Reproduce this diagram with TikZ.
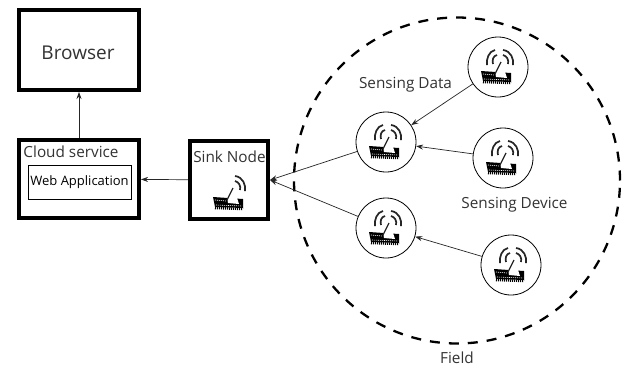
\documentclass[tikz,border=0pt]{standalone}
\usepackage{fontspec}
\setmainfont{Open Sans}
\usetikzlibrary{arrows.meta, positioning}

% chip with antenna, drawn around a centre point
\newcommand{\chipicon}[2]{%
    \begin{scope}[shift={(#1)}]
        \fill[black] (-17,4) -- (13,6) -- (13,15) -- (-15,14) -- cycle;
        \draw[black, dash pattern=on 1pt off 1pt, line width=2.5pt] (-15,15) -- (13,16);
        \draw[white, dash pattern=on 1pt off 1pt, line width=0.6pt] (-15,7) -- (-4,8);
        \draw[white, dash pattern=on 1pt off 1pt, line width=0.6pt] (-14,12) -- (12,13);
        \fill[white] (-3,4) -- (7,5) -- (9,11) -- (-2,10) -- cycle;
        \draw[line width=1.3pt] (3,-5) -- (-3,7);
        \draw[line width=1.7pt] (5,-12) .. controls (9,-11) and (11,-7) .. (10,-3);
        \draw[line width=1.7pt] (5,-17) .. controls (13,-16) and (16,-8) .. (15,-2);
        \ifnum#2=1
            \draw[line width=1.7pt] (-1,-12) .. controls (-5,-11) and (-6,-7) .. (-5,-3);
            \draw[line width=1.7pt] (-3,-17) .. controls (-9,-16) and (-12,-8) .. (-11,-2);
        \fi
    \end{scope}%
}

\begin{document}
\begin{tikzpicture}[x=1pt, y=-1pt, >={Stealth[length=7pt,width=5pt]}, line width=0.7pt, draw=black!85]
    \tikzstyle{bigbox}=[draw=black, line width=4pt, inner sep=0pt]
    \tikzstyle{appbox}=[draw=black, line width=1pt, inner sep=0pt, minimum width=103pt, minimum height=34pt, font=\fontsize{13}{15}\selectfont]
    \tikzstyle{sensor}=[circle, draw=black, line width=0.8pt, minimum size=60pt, inner sep=0pt]
    \tikzstyle{annot}=[inner sep=0pt, text=black!80, font=\fontsize{15.3}{18}\selectfont]

    \useasboundingbox (0,0) rectangle (624,367);
    \fill[white] (0,0) rectangle (624,367);

    % The boxes on the left
    \node[bigbox, minimum width=120pt, minimum height=80pt] (browser) at (79,50) {};
    \node[annot, font=\fontsize{19}{22}\selectfont] (browserlabel) at (78,53) {Browser};
    \node[bigbox, minimum width=120pt, minimum height=78pt] (cloud) at (79,179) {};
    \node[annot] (cloudlabel) at (71,152) {Cloud service};
    \node[appbox] (webapp) at (79.5,182) {Web Application};
    \node[bigbox, minimum width=78pt, minimum height=78pt] (sink) at (229,180) {};
    \node[annot] (sinklabel) at (229.5,157) {Sink Node};
    \chipicon{230,193}{0}

    % The field
    \node[circle, draw=black, line width=2.3pt, dash pattern=on 10pt off 9pt, minimum size=326pt, inner sep=0pt] (field) at (457,180.5) {};

    % Draw the sensing devices
    \foreach \name / \x / \y in {1/498/67, 2/386/142, 3/503/158, 4/386/228, 5/511/265}{
        \node[sensor] (S-\name) at (\x,\y) {};
        \chipicon{\x,\y}{1}
    }

    % Texts
    \node[annot] (datalabel) at (405.5,85) {Sensing Data};
    \node[annot] (devicelabel) at (514.5,205) {Sensing Device};
    \node[annot] (fieldlabel) at (457,358) {Field};

    % Connect the devices
    \draw[->] (S-1) -- (S-2);
    \draw[->] (S-3) -- (S-2);
    \draw[->] (S-5) -- (S-4);
    \draw[->] (S-2) -- (sink.east);
    \draw[->] (S-4) -- (sink.east);

    % Connect the boxes
    \draw[->] (sink) -- (cloud);
    \draw[->] (cloud) -- (browser);
\end{tikzpicture}
\end{document}
